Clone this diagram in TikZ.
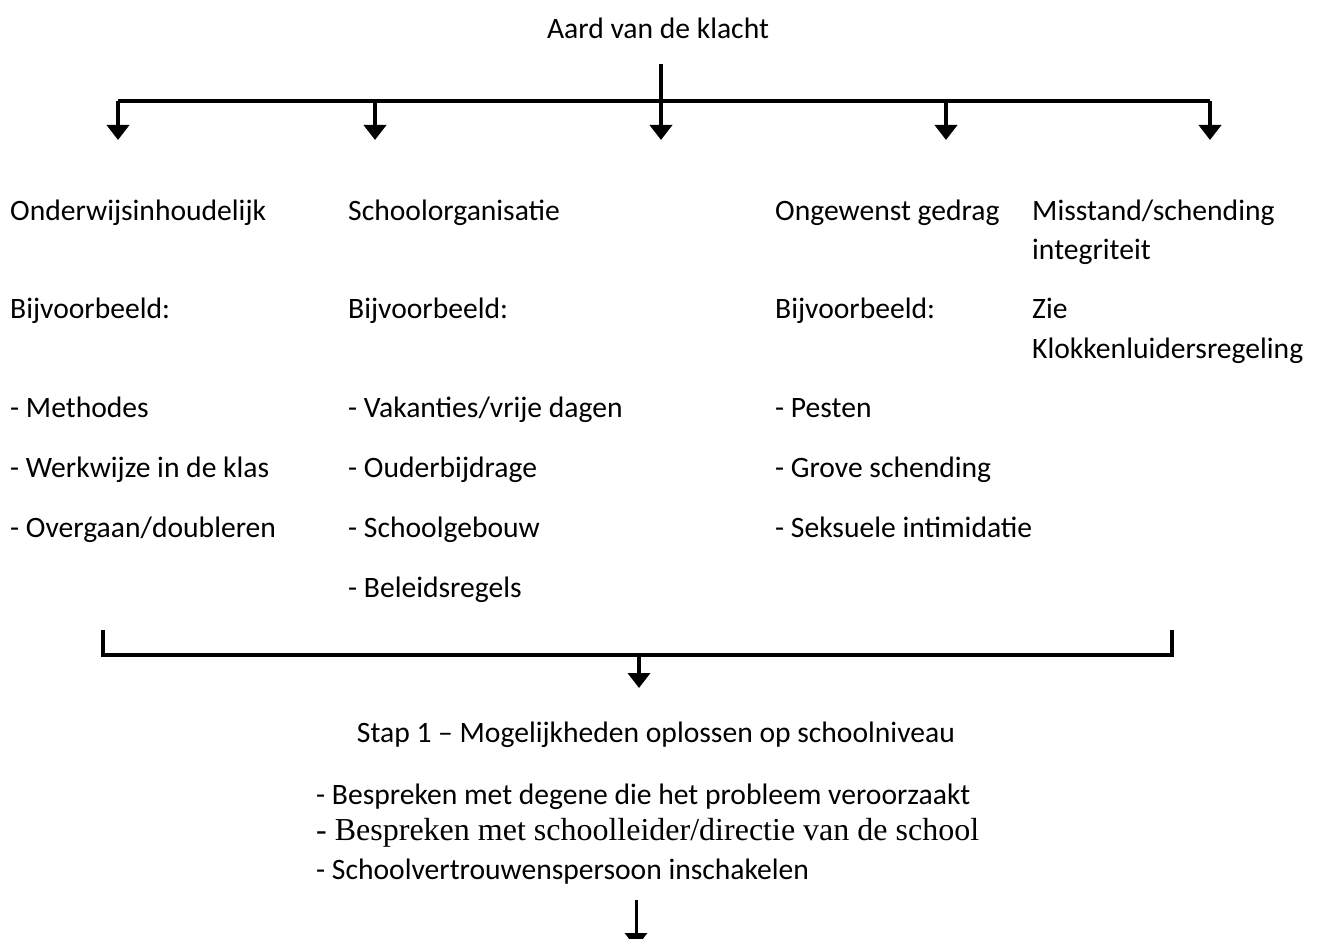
\documentclass[tikz,border=0pt]{standalone}
\usepackage{fontspec}
\setmainfont{Carlito}
\newfontfamily\timesfont{Liberation Serif}
\usetikzlibrary{arrows.meta}
\tikzset{
  txt/.style={anchor=base west,inner sep=0pt,font=\fontsize{29.6}{34}\selectfont},
  thick line/.style={line width=4pt},
  arr/.style={line width=4pt,-{Triangle[width=22pt,length=15pt]}},
  thinarr/.style={line width=3pt,-{Triangle[width=22pt,length=15pt]}}
}
\begin{document}
\begin{tikzpicture}[x=1pt,y=-1pt]
\useasboundingbox (0,0) rectangle (1317,939);
\clip (0,0) rectangle (1317,939);
% title
\node[txt,anchor=base] (title) at (658,39) {Aard van de klacht};
% top tree
\coordinate (top) at (661,64);
\coordinate (hl) at (118,101);
\coordinate (hr) at (1210,101);
\coordinate (t1) at (118,140);
\coordinate (t2) at (375,140);
\coordinate (t3) at (661,140);
\coordinate (t4) at (946,140);
\coordinate (t5) at (1210,140);
\draw[thick line] (hl) -- (hr);
\draw[arr] (top) -- (t3);
\draw[arr] (hl) -- (t1);
\draw[arr] (t2 |- hl) -- (t2);
\draw[arr] (t4 |- hl) -- (t4);
\draw[arr] (hr) -- (t5);
% column 1
\node[txt] (c1a) at (10,220) {Onderwijsinhoudelijk};
\node[txt] (c1b) at (10,318) {Bijvoorbeeld:};
\node[txt] (c1c) at (10,417) {- Methodes};
\node[txt] (c1d) at (10,477) {- Werkwijze in de klas};
\node[txt] (c1e) at (10,537) {- Overgaan/doubleren};
% column 2
\node[txt] (c2a) at (348,220) {Schoolorganisatie};
\node[txt] (c2b) at (348,318) {Bijvoorbeeld:};
\node[txt] (c2c) at (348,417) {- Vakanties/vrije dagen};
\node[txt] (c2d) at (348,477) {- Ouderbijdrage};
\node[txt] (c2e) at (348,537) {- Schoolgebouw};
\node[txt] (c2f) at (348,597) {- Beleidsregels};
% column 3
\node[txt] (c3a) at (775,220) {Ongewenst gedrag};
\node[txt] (c3b) at (775,318) {Bijvoorbeeld:};
\node[txt] (c3c) at (775,417) {- Pesten};
\node[txt] (c3d) at (775,477) {- Grove schending};
\node[txt] (c3e) at (775,537) {- Seksuele intimidatie};
% column 4
\node[txt] (c4a) at (1032,220) {Misstand/schending};
\node[txt] (c4b) at (1032,259) {integriteit};
\node[txt] (c4c) at (1032,318) {Zie};
\node[txt] (c4d) at (1032,358) {Klokkenluidersregeling};
% bottom bracket
\coordinate (bl) at (103,630);
\coordinate (blc) at (103,655);
\coordinate (brc) at (1172,655);
\coordinate (br) at (1172,630);
\coordinate (bm) at (639,655);
\coordinate (bt) at (639,688);
\draw[thick line] (bl) -- (blc) -- (brc) -- (br);
\draw[arr] (bm) -- (bt);
% step 1
\node[txt,anchor=base] (stap) at (656,742) {Stap 1 – Mogelijkheden oplossen op schoolniveau};
\node[txt] (s1) at (316,804) {- Bespreken met degene die het probleem veroorzaakt};
\node[txt,font=\timesfont\fontsize{32}{36}\selectfont] (s2) at (316,840) {- Bespreken met schoolleider/directie van de school};
\node[txt] (s3) at (316,879) {- Schoolvertrouwenspersoon inschakelen};
\coordinate (fa) at (636,900);
\coordinate (fb) at (636,948);
\draw[thinarr] (fa) -- (fb);
\end{tikzpicture}
\end{document}
